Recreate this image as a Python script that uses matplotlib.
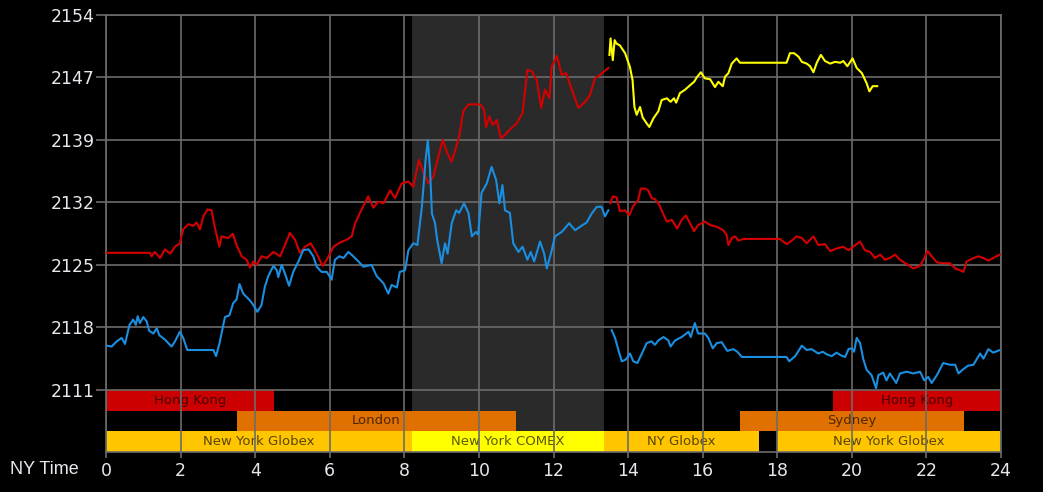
import numpy as np
import matplotlib
matplotlib.use('Agg')
import matplotlib.pyplot as plt

# --- Données (heure NY, prix) ---
# courbe rouge, avant la coupure de 13h20
red_am = [(0, 2126.4), (1.18, 2126.4), (1.22, 2126.0), (1.31, 2126.5), (1.45, 2125.8), (1.58, 2126.8),
          (1.72, 2126.3), (1.85, 2127.1), (1.98, 2127.5), (2.07, 2129.1), (2.21, 2129.7), (2.34, 2129.5),
          (2.43, 2129.9), (2.52, 2129.1), (2.61, 2130.6), (2.72, 2131.4), (2.83, 2131.3), (2.92, 2129.3),
          (3.04, 2127.1), (3.10, 2128.3), (3.28, 2128.1), (3.40, 2128.6), (3.50, 2127.3), (3.64, 2126.0),
          (3.77, 2125.6), (3.86, 2124.7), (3.95, 2125.4), (4.04, 2125.0), (4.17, 2126.0), (4.31, 2125.8),
          (4.49, 2126.5), (4.67, 2126.0), (4.80, 2127.3), (4.93, 2128.7), (5.07, 2127.9), (5.20, 2126.4),
          (5.34, 2127.1), (5.49, 2127.5), (5.60, 2126.7), (5.81, 2124.9), (5.92, 2125.6), (6.10, 2127.1),
          (6.28, 2127.6), (6.45, 2127.9), (6.59, 2128.3), (6.68, 2129.8), (6.81, 2131.0), (7.03, 2132.9),
          (7.17, 2131.6), (7.30, 2132.3), (7.44, 2132.1), (7.62, 2133.6), (7.75, 2132.7), (7.93, 2134.4),
          (8.11, 2134.6), (8.24, 2134.0), (8.39, 2137.1), (8.51, 2135.7), (8.64, 2134.4), (8.78, 2135.2),
          (8.89, 2137.1), (9.03, 2139.4), (9.15, 2137.9), (9.27, 2136.9), (9.39, 2138.6), (9.47, 2139.8),
          (9.58, 2142.7), (9.72, 2143.5), (10.03, 2143.5), (10.14, 2142.9), (10.19, 2140.9), (10.28, 2142.1),
          (10.37, 2141.1), (10.48, 2141.7), (10.59, 2139.6), (10.70, 2140.0), (10.83, 2140.6), (11.01, 2141.3),
          (11.17, 2142.5), (11.30, 2147.5), (11.42, 2147.3), (11.55, 2146.3), (11.67, 2143.1), (11.77, 2145.2),
          (11.89, 2144.2), (11.95, 2147.8), (12.09, 2149.1), (12.22, 2146.9), (12.34, 2147.1), (12.49, 2145.2),
          (12.67, 2143.1), (12.85, 2143.8), (12.98, 2144.6), (13.11, 2146.5), (13.25, 2146.9), (13.47, 2147.7)]

# courbe rouge, après la coupure
red_pm = [(13.52, 2132.1), (13.59, 2132.9), (13.69, 2132.8), (13.78, 2131.2), (13.92, 2131.3), (14.03, 2130.7),
          (14.14, 2131.8), (14.27, 2132.5), (14.34, 2133.8), (14.45, 2133.8), (14.54, 2133.6), (14.63, 2132.7),
          (14.72, 2132.6), (14.84, 2131.9), (14.95, 2130.8), (15.04, 2130.0), (15.17, 2130.2), (15.32, 2129.2),
          (15.44, 2130.2), (15.55, 2130.7), (15.66, 2129.8), (15.77, 2128.9), (15.88, 2129.6), (16.06, 2130.0),
          (16.20, 2129.6), (16.38, 2129.4), (16.55, 2129.0), (16.64, 2128.5), (16.69, 2127.3), (16.78, 2128.1),
          (16.87, 2128.3), (16.96, 2127.8), (17.09, 2128.0), (18.07, 2128.0), (18.25, 2127.4), (18.39, 2127.8),
          (18.52, 2128.3), (18.66, 2128.1), (18.79, 2127.5), (18.97, 2128.3), (19.10, 2127.3), (19.28, 2127.4),
          (19.42, 2126.6), (19.59, 2126.9), (19.77, 2127.1), (19.91, 2126.7), (20.04, 2127.1), (20.22, 2127.7),
          (20.35, 2126.7), (20.49, 2126.5), (20.62, 2125.8), (20.76, 2126.2), (20.89, 2125.6), (21.02, 2125.8),
          (21.16, 2126.2), (21.29, 2125.6), (21.47, 2125.1), (21.65, 2124.6), (21.83, 2124.9), (21.92, 2125.6),
          (22.03, 2126.6), (22.14, 2126.0), (22.28, 2125.3), (22.45, 2125.2), (22.63, 2125.2), (22.77, 2124.6),
          (22.90, 2124.4), (22.99, 2124.2), (23.08, 2125.4), (23.21, 2125.7), (23.39, 2126.0), (23.53, 2125.8),
          (23.66, 2125.5), (23.79, 2125.8), (23.97, 2126.2)]

# courbe bleue, avant la coupure
blue_am = [(0.02, 2115.7), (0.15, 2115.6), (0.29, 2116.2), (0.42, 2116.6), (0.51, 2115.9), (0.63, 2118.1),
           (0.73, 2118.7), (0.80, 2118.1), (0.85, 2119.1), (0.91, 2118.3), (1.00, 2119.0), (1.09, 2118.5),
           (1.16, 2117.4), (1.27, 2117.1), (1.36, 2117.7), (1.43, 2116.9), (1.58, 2116.4), (1.76, 2115.6),
           (1.85, 2116.2), (1.98, 2117.3), (2.07, 2116.6), (2.18, 2115.2), (2.88, 2115.2), (2.95, 2114.5),
           (3.04, 2115.9), (3.19, 2119.0), (3.31, 2119.2), (3.41, 2120.6), (3.50, 2121.0), (3.58, 2122.8),
           (3.68, 2121.7), (3.84, 2121.0), (3.95, 2120.4), (4.06, 2119.6), (4.17, 2120.4), (4.26, 2122.5),
           (4.35, 2123.7), (4.49, 2124.9), (4.58, 2124.4), (4.62, 2123.6), (4.71, 2125.0), (4.80, 2124.0),
           (4.91, 2122.6), (5.02, 2124.2), (5.16, 2125.4), (5.29, 2126.7), (5.43, 2126.8), (5.56, 2126.0),
           (5.65, 2124.8), (5.78, 2124.2), (5.92, 2124.2), (6.05, 2123.3), (6.14, 2125.6), (6.26, 2126.0),
           (6.37, 2125.8), (6.50, 2126.5), (6.63, 2126.0), (6.77, 2125.4), (6.90, 2124.8), (7.12, 2125.0),
           (7.26, 2123.7), (7.35, 2123.3), (7.44, 2122.9), (7.57, 2121.7), (7.66, 2122.7), (7.80, 2122.4),
           (7.88, 2124.2), (8.02, 2124.4), (8.11, 2126.7), (8.24, 2127.5), (8.35, 2127.3), (8.47, 2131.7),
           (8.57, 2137.1), (8.63, 2139.4), (8.69, 2135.9), (8.74, 2130.9), (8.82, 2129.9), (8.88, 2127.9),
           (9.00, 2125.2), (9.09, 2127.5), (9.16, 2126.3), (9.27, 2129.8), (9.39, 2131.3), (9.47, 2131.0),
           (9.60, 2132.1), (9.72, 2131.0), (9.81, 2128.3), (9.92, 2128.8), (9.98, 2128.5), (10.07, 2133.3),
           (10.21, 2134.4), (10.34, 2136.3), (10.46, 2134.8), (10.55, 2132.1), (10.63, 2134.2), (10.70, 2131.3),
           (10.83, 2131.0), (10.92, 2127.5), (11.06, 2126.5), (11.17, 2127.1), (11.30, 2125.6), (11.39, 2126.5),
           (11.48, 2125.4), (11.64, 2127.7), (11.75, 2126.3), (11.82, 2124.6), (11.93, 2126.3), (12.04, 2128.3),
           (12.22, 2128.8), (12.42, 2129.8), (12.58, 2129.0), (12.71, 2129.4), (12.89, 2129.9), (13.02, 2130.9),
           (13.16, 2131.7), (13.29, 2131.7), (13.38, 2130.6), (13.47, 2131.3)]

# courbe bleue, après la coupure
blue_pm = [(13.56, 2117.5), (13.65, 2116.6), (13.74, 2115.2), (13.83, 2113.9), (13.94, 2114.1), (14.05, 2114.8),
           (14.14, 2113.9), (14.25, 2113.7), (14.37, 2114.8), (14.50, 2116.0), (14.63, 2116.2), (14.72, 2115.8),
           (14.81, 2116.3), (14.95, 2116.7), (15.08, 2116.3), (15.14, 2115.6), (15.26, 2116.3), (15.44, 2116.7),
           (15.62, 2117.3), (15.68, 2116.7), (15.79, 2118.3), (15.88, 2117.1), (16.06, 2117.1), (16.15, 2116.6),
           (16.27, 2115.4), (16.38, 2116.0), (16.51, 2116.1), (16.66, 2115.1), (16.82, 2115.3), (16.93, 2115.0),
           (17.05, 2114.4), (18.25, 2114.4), (18.32, 2113.9), (18.48, 2114.5), (18.66, 2115.7), (18.79, 2115.2),
           (18.92, 2115.3), (19.10, 2114.8), (19.22, 2115.0), (19.33, 2114.7), (19.46, 2114.5), (19.59, 2114.9),
           (19.70, 2114.6), (19.82, 2114.4), (19.91, 2115.3), (20.00, 2115.4), (20.06, 2115.0), (20.13, 2116.6),
           (20.22, 2116.0), (20.31, 2114.1), (20.40, 2112.9), (20.53, 2112.3), (20.65, 2110.8), (20.71, 2112.3),
           (20.84, 2112.6), (20.93, 2111.7), (21.02, 2112.5), (21.19, 2111.4), (21.29, 2112.5), (21.47, 2112.7),
           (21.65, 2112.5), (21.83, 2112.7), (21.94, 2111.7), (22.05, 2112.1), (22.14, 2111.4), (22.28, 2112.3),
           (22.45, 2113.7), (22.63, 2113.5), (22.77, 2113.5), (22.86, 2112.5), (22.99, 2113.0), (23.12, 2113.4),
           (23.26, 2113.5), (23.44, 2114.8), (23.53, 2114.2), (23.66, 2115.3), (23.79, 2114.9), (23.97, 2115.2)]

# courbe jaune (séance en cours)
yellow = [(13.50, 2149.2), (13.53, 2151.1), (13.59, 2148.6), (13.64, 2150.9), (13.69, 2150.5), (13.78, 2150.3),
          (13.92, 2149.4), (14.05, 2147.8), (14.12, 2146.3), (14.17, 2143.2), (14.23, 2142.3), (14.32, 2143.2),
          (14.39, 2142.0), (14.50, 2141.3), (14.57, 2140.9), (14.68, 2141.9), (14.81, 2142.7), (14.90, 2144.0),
          (15.04, 2144.2), (15.14, 2143.8), (15.23, 2144.2), (15.29, 2143.7), (15.39, 2144.8), (15.53, 2145.2),
          (15.66, 2145.7), (15.77, 2146.1), (15.84, 2146.6), (15.95, 2147.2), (16.06, 2146.5), (16.20, 2146.4),
          (16.33, 2145.5), (16.42, 2146.1), (16.54, 2145.6), (16.60, 2146.7), (16.69, 2147.1), (16.78, 2148.2),
          (16.91, 2148.8), (17.00, 2148.3), (18.25, 2148.3), (18.34, 2149.4), (18.45, 2149.4), (18.57, 2149.0),
          (18.66, 2148.4), (18.79, 2148.2), (18.88, 2147.9), (18.97, 2147.2), (19.06, 2148.3), (19.17, 2149.2),
          (19.28, 2148.5), (19.42, 2148.2), (19.55, 2148.4), (19.69, 2148.3), (19.77, 2148.5), (19.88, 2147.9),
          (20.02, 2148.8), (20.13, 2147.7), (20.27, 2147.1), (20.40, 2145.9), (20.47, 2145.0), (20.56, 2145.6),
          (20.68, 2145.6)]

# axes
y_ticks = [2110.6, 2117.8, 2125.0, 2132.2, 2139.4, 2146.6, 2153.8]
y_labels = ['2111', '2118', '2125', '2132', '2139', '2147', '2154']
x_ticks = list(range(0, 25, 2))

# séances de marché
session_names = ['Hong Kong', 'Hong Kong', 'London', 'Sydney',
                 'New York Globex', 'New York COMEX', 'NY Globex', 'New York Globex']
session_start = [0, 19.5, 3.5, 17, 0, 8.2, 13.35, 18]
session_end = [4.5, 24, 11, 23, 8.2, 13.35, 17.5, 24]
comex_open, comex_close = 8.2, 13.35

# --- Style ---
ROW = {'Hong Kong': 2, 'London': 1, 'Sydney': 1,
       'New York Globex': 0, 'New York COMEX': 0, 'NY Globex': 0}
COLORS = {'Hong Kong': '#cc0000', 'London': '#e07000', 'Sydney': '#e07000',
          'New York Globex': '#ffc600', 'New York COMEX': '#ffff00', 'NY Globex': '#ffc600'}
GRID = '#6c6c6c'
LABEL = '#e6e8ee'

y_top = 2153.8
y_bottom = 2103.45
band_top = 2110.6
row_h = (band_top - y_bottom) / 3

fig = plt.figure(figsize=(10.43, 4.92), dpi=100, facecolor='black')
ax = fig.add_axes([106 / 1043, 1 - 452 / 492, 895 / 1043, 437 / 492])
ax.set_facecolor('black')

# zone COMEX grisée
ax.axvspan(comex_open, comex_close, color='#2a2a2a', zorder=0.5, lw=0)

# bandes des séances
for name, s, e in zip(session_names, session_start, session_end):
    yb = y_bottom + ROW[name] * row_h
    ax.barh(yb + row_h / 2, e - s, left=s, height=row_h, color=COLORS[name], lw=0, zorder=1)
    ax.text((s + e) / 2, yb + row_h / 2, name, ha='center', va='center',
            fontsize=9.5, color='black', alpha=0.65, zorder=1.2)

# courbes
for pts, col in [(red_am, '#d40000'), (red_pm, '#d40000'),
                 (blue_am, '#1a8ee0'), (blue_pm, '#1a8ee0'), (yellow, '#ffff00')]:
    arr = np.array(pts)
    ax.plot(arr[:, 0], arr[:, 1], color=col, lw=1.5, zorder=3)

ax.set_xlim(0, 24)
ax.set_ylim(y_bottom, y_top)
ax.set_xticks(x_ticks)
ax.set_xticklabels([str(t) for t in x_ticks])
ax.set_yticks(y_ticks)
ax.set_yticklabels(y_labels)

ax.set_axisbelow('line')
ax.grid(True, color=GRID, lw=1.2)
for sp in ax.spines.values():
    sp.set_color(GRID)
    sp.set_linewidth(1.2)

ax.tick_params(axis='y', colors=GRID, labelcolor=LABEL, labelsize=12.5, length=7, width=1.2, pad=1)
ax.tick_params(axis='x', colors=GRID, labelcolor=LABEL, labelsize=12.5, length=4, width=1.2, pad=3)

fig.text(10 / 1043, 1 - 470 / 492, 'NY Time', ha='left', va='center',
         color=LABEL, fontsize=13, family='Liberation Sans')

fig.savefig('out.png', dpi=100, facecolor='black')
